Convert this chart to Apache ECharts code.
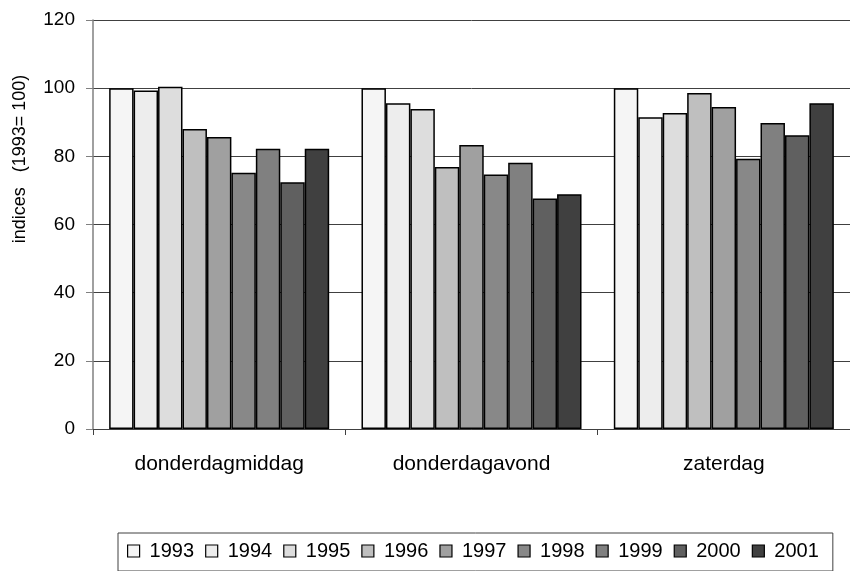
<!DOCTYPE html>
<html>
<head>
<meta charset="utf-8">
<script src="https://cdn.jsdelivr.net/npm/echarts@6/dist/echarts.min.js"></script>
<style>html,body{margin:0;padding:0;background:#fff;}#c{width:850px;height:571px;}</style>
</head>
<body>
<div id="c"></div>
<script>
var categories = ['donderdagmiddag', 'donderdagavond', 'zaterdag'];
var years = ['1993', '1994', '1995', '1996', '1997', '1998', '1999', '2000', '2001'];
var v1993 = [100, 100, 100];
var v1994 = [99.3, 95.6, 91.5];
var v1995 = [100.4, 93.9, 92.7];
var v1996 = [88.0, 76.9, 98.6];
var v1997 = [85.7, 83.3, 94.5];
var v1998 = [75.2, 74.7, 79.3];
var v1999 = [82.2, 78.1, 89.8];
var v2000 = [72.4, 67.6, 86.2];
var v2001 = [82.2, 68.9, 95.6];
var yTicks = [0, 20, 40, 60, 80, 100, 120];
var colors = ['#f5f5f5', '#ededed', '#dddddd', '#bfbfbf', '#a0a0a0', '#888888', '#808080', '#606060', '#404040'];
var allValues = [v1993, v1994, v1995, v1996, v1997, v1998, v1999, v2000, v2001];

var font = 'Liberation Sans, Arial, sans-serif';
var series = years.map(function (y, i) {
  return {
    name: y,
    type: 'bar',
    data: allValues[i],
    barGap: '0%',
    barCategoryGap: '12.8%',
    itemStyle: { color: colors[i], borderColor: '#000', borderWidth: 1.5 }
  };
});

var chart = echarts.init(document.getElementById('c'), null, { renderer: 'canvas' });
chart.setOption({
  animation: false,
  backgroundColor: '#fff',
  grid: { left: 93, top: 20, width: 764, height: 409, containLabel: false },
  legend: {
    data: years,
    left: 118,
    top: 533,
    padding: [8, 14, 10, 9],
    itemGap: 11,
    itemWidth: 12,
    itemHeight: 12,
    borderColor: '#404040',
    borderWidth: 1,
    icon: 'rect',
    textStyle: { fontFamily: font, fontSize: 20, color: '#000', padding: [0, 0, 0, 5] },
    itemStyle: { borderColor: '#000', borderWidth: 1.2 }
  },
  xAxis: {
    type: 'category',
    data: categories,
    axisLine: { lineStyle: { color: '#404040', width: 1 } },
    axisTick: { show: true, length: 6, lineStyle: { color: '#404040' } },
    axisLabel: { fontFamily: font, fontSize: 21, color: '#000', margin: 25 }
  },
  yAxis: {
    type: 'value',
    min: 0,
    max: 120,
    interval: 20,
    axisLine: { show: true, lineStyle: { color: '#808080', width: 1.5 } },
    axisTick: { show: true, length: 7, lineStyle: { color: '#808080' } },
    axisLabel: { fontFamily: font, fontSize: 19, color: '#000', margin: 18,
      formatter: function (v) { return yTicks.indexOf(v) >= 0 ? String(v) : ''; } },
    splitLine: { show: true, lineStyle: { color: '#404040', width: 1 } }
  },
  graphic: [{
    type: 'text',
    x: 20,
    y: 159,
    rotation: Math.PI / 2,
    style: {
      text: 'indices   (1993= 100)',
      font: '18px Liberation Sans, Arial, sans-serif',
      fill: '#000',
      textAlign: 'center',
      textVerticalAlign: 'middle'
    }
  }],
  series: series
});
</script>
</body>
</html>
